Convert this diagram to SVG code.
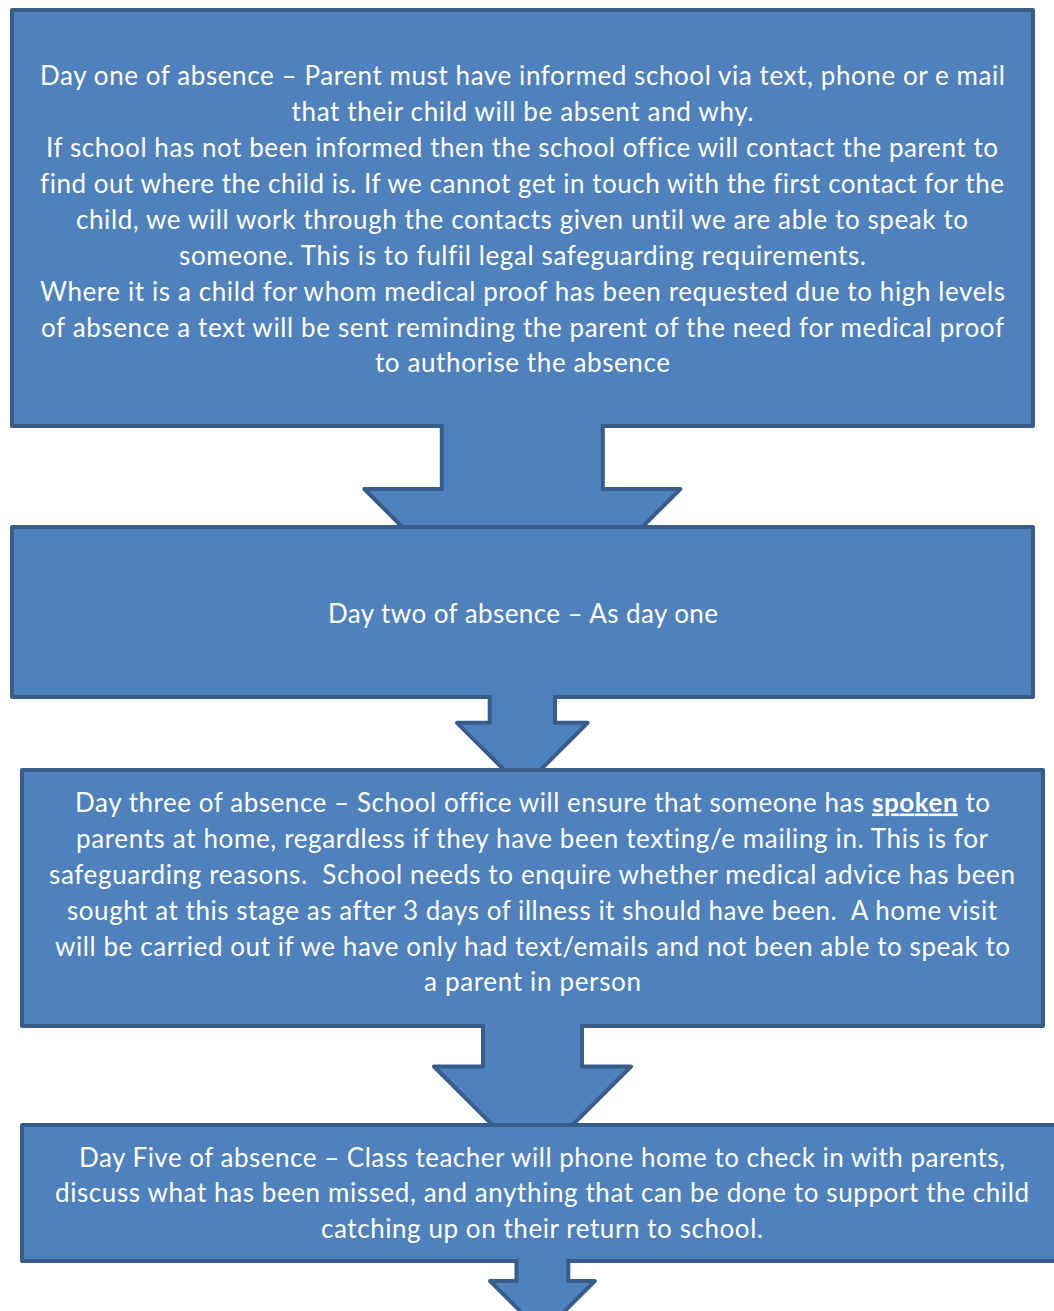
<svg xmlns="http://www.w3.org/2000/svg" width="1054" height="1311" viewBox="0 0 1054 1311">
<style>
.box{fill:#4F81BD;stroke:#385D8A;stroke-width:4;stroke-linejoin:round}
.af{fill:#4F81BD;stroke:none}
.as{fill:none;stroke:#385D8A;stroke-width:4;stroke-linejoin:round}
.t{font-family:Lato,"Open Sans","Liberation Sans",sans-serif;font-size:26px;fill:#FFFFFF;text-anchor:middle;font-variant-ligatures:none}
.b{font-weight:bold;text-decoration:underline}
</style>
<defs>
<clipPath id="c1"><rect x="300" y="400" width="460" height="125"/></clipPath>
<clipPath id="c2"><rect x="400" y="680" width="250" height="88"/></clipPath>
<clipPath id="c3"><rect x="400" y="1000" width="260" height="123"/></clipPath>
<clipPath id="c4"><rect x="450" y="1240" width="200" height="80"/></clipPath>
</defs>
<g id="nodes">
<g id="day1">
<rect class="box" x="12" y="10" width="1021" height="416"/>
<text class="t" x="522.5" y="85" textLength="965">Day one of absence – Parent must have informed school via text, phone or e mail</text>
<text class="t" x="522.5" y="121" textLength="462">that their child will be absent and why.</text>
<text class="t" x="522" y="157" textLength="952">If school has not been informed then the school office will contact the parent to</text>
<text class="t" x="522" y="193" textLength="964">find out where the child is. If we cannot get in touch with the first contact for the</text>
<text class="t" x="522" y="229" textLength="892">child, we will work through the contacts given until we are able to speak to</text>
<text class="t" x="522.5" y="264.5" textLength="687">someone. This is to fulfil legal safeguarding requirements.</text>
<text class="t" x="522.5" y="300.5" textLength="965">Where it is a child for whom medical proof has been requested due to high levels</text>
<text class="t" x="522.5" y="336.5" textLength="963">of absence a text will be sent reminding the parent of the need for medical proof</text>
<text class="t" x="522.5" y="372" textLength="295">to authorise the absence</text>
</g>
<g id="day2">
<rect class="box" x="12" y="527" width="1021" height="170"/>
<text class="t" x="523" y="622.5" textLength="390">Day two of absence – As day one</text>
</g>
<g id="day3">
<rect class="box" x="22" y="770" width="1021" height="256"/>
<text class="t" x="532.5" y="811.5" textLength="915">Day three of absence – School office will ensure that someone has <tspan class="b">spoken</tspan> to</text>
<text class="t" x="532" y="847.5" textLength="912">parents at home, regardless if they have been texting/e mailing in. This is for</text>
<text class="t" x="532" y="883.5" textLength="966" xml:space="preserve">safeguarding reasons.  School needs to enquire whether medical advice has been</text>
<text class="t" x="532" y="919.5" textLength="930" xml:space="preserve">sought at this stage as after 3 days of illness it should have been.  A home visit</text>
<text class="t" x="532.5" y="955.5" textLength="955">will be carried out if we have only had text/emails and not been able to speak to</text>
<text class="t" x="532.5" y="991" textLength="217">a parent in person</text>
</g>
<g id="day5">
<rect class="box" x="22" y="1125" width="1040" height="136"/>
<text class="t" x="542" y="1166.5" textLength="926">Day Five of absence – Class teacher will phone home to check in with parents,</text>
<text class="t" x="542" y="1202" textLength="974">discuss what has been missed, and anything that can be done to support the child</text>
<text class="t" x="542" y="1238" textLength="442">catching up on their return to school.</text>
</g>
</g>
<g id="connectors">
<g id="a1" clip-path="url(#c1)">
<path class="af" d="M441.8,418 V489 H364.3 L522.3,647 L680.3,489 H602.8 V418 Z"/>
<path class="as" d="M441.8,424 V489 H364.3 L522.3,647 L680.3,489 H602.8 V424"/>
</g>
<g id="a2" clip-path="url(#c2)">
<path class="af" d="M489.7,690 V722.8 H457 L522.3,788 L587.6,722.8 H555 V690 Z"/>
<path class="as" d="M489.7,695 V722.8 H457 L522.3,788 L587.6,722.8 H555 V695"/>
</g>
<g id="a3" clip-path="url(#c3)">
<path class="af" d="M483,1018 V1066.5 H434 L532.5,1165 L631,1066.5 H582 V1018 Z"/>
<path class="as" d="M483,1024 V1066.5 H434 L532.5,1165 L631,1066.5 H582 V1024"/>
</g>
<g id="a4" clip-path="url(#c4)">
<path class="af" d="M516.5,1253 V1281 H490 L542.4,1333.4 L594.8,1281 H568.3 V1253 Z"/>
<path class="as" d="M516.5,1259 V1281 H490 L542.4,1333.4 L594.8,1281 H568.3 V1259"/>
</g>
</g>
</svg>
